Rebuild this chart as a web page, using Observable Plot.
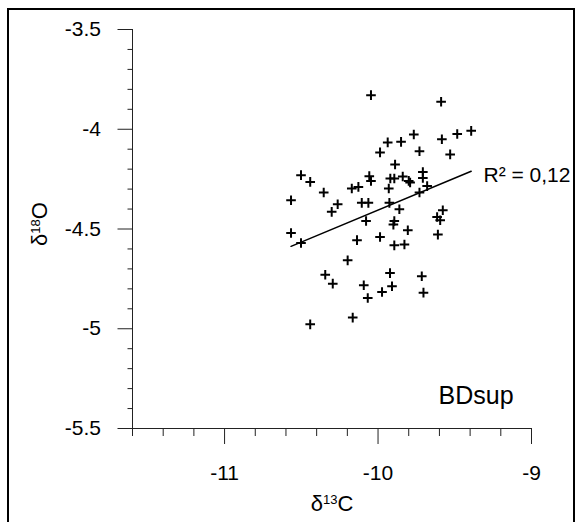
<!DOCTYPE html>
<html><head><meta charset="utf-8">
<script src="https://cdn.jsdelivr.net/npm/d3@7"></script>
<script src="https://cdn.jsdelivr.net/npm/@observablehq/plot@0.6"></script>
<style>
html,body{margin:0;padding:0;background:#fff;}
#wrap{position:relative;width:577px;height:522px;overflow:hidden;background:#fff;}
#border{position:absolute;left:7px;top:8px;width:568px;height:530px;border:2px solid #000;box-sizing:border-box;pointer-events:none;}
svg text{font-family:"Liberation Sans",Arial,sans-serif;}
</style></head><body>
<div id="wrap"><div id="border"></div></div>
<script>
// δ13C values (x)
const d13C = [
  -10.502,-10.442,-10.354,-10.567,-10.263,-10.302,-10.171,-10.128,-10.057,-10.046,-10.106,-10.063,-9.987,-10.046,
  -9.589,-9.393,-9.484,-9.584,-9.767,-9.850,-9.937,-9.730,-9.530,-9.889,-9.920,-9.894,-9.839,-9.800,-9.791,-9.708,-9.708,-9.680,-9.730,-9.930,-9.926,-9.861,-9.578,
  -10.078,-10.567,-10.502,-10.137,-10.198,-10.344,-10.295,-10.093,-10.067,-10.165,-10.442,
  -9.894,-9.900,-9.806,-9.987,-9.894,-9.828,-9.615,-9.595,-9.610,-9.922,-9.715,-9.909,-9.974,-9.704
];
// δ18O values (y)
const d18O = [
  -4.230,-4.264,-4.317,-4.356,-4.376,-4.414,-4.297,-4.289,-4.235,-4.259,-4.369,-4.369,-4.116,-3.829,
  -3.862,-4.008,-4.024,-4.050,-4.026,-4.063,-4.066,-4.110,-4.126,-4.177,-4.247,-4.247,-4.237,-4.259,-4.267,-4.214,-4.244,-4.285,-4.317,-4.297,-4.369,-4.401,-4.406,
  -4.460,-4.520,-4.570,-4.556,-4.657,-4.729,-4.774,-4.782,-4.846,-4.944,-4.978,
  -4.460,-4.478,-4.506,-4.540,-4.582,-4.578,-4.440,-4.456,-4.528,-4.721,-4.737,-4.787,-4.816,-4.819
];
const xMajorTicks = [-11, -10, -9];
const xMinorTicks = [-11.6,-11.4,-11.2,-10.8,-10.6,-10.4,-10.2,-9.8,-9.6,-9.4,-9.2];
const yMajorTicks = [-3.5, -4, -4.5, -5, -5.5];
const yMinorTicks = [-3.6,-3.7,-3.8,-3.9,-4.1,-4.2,-4.3,-4.4,-4.6,-4.7,-4.8,-4.9,-5.1,-5.2,-5.3,-5.4];
const xDomain = [-11.6, -9];
const yDomain = [-5.5, -3.5];
const xLabelParts = ["δ", "13", "C"];
const yLabelParts = ["δ", "18", "O"];
const r2Label = "R² = 0,12";
const sampleName = "BDsup";

const data = d13C.map((x, i) => ({x, y: d18O[i]}));

const plot = Plot.plot({
  width: 577, height: 522,
  marginLeft: 132, marginRight: 46, marginTop: 29, marginBottom: 94,
  x: {domain: xDomain, label: null},
  y: {domain: yDomain, label: null},
  style: {fontFamily: '"Liberation Sans", Arial, sans-serif', background: "transparent", color: "#000", overflow: "visible"},
  marks: [
    Plot.axisX(xMinorTicks, {tickSize: 8, tickFormat: () => "", label: null, stroke: "#222"}),
    Plot.axisX(xMajorTicks, {tickSize: 16, tickPadding: 21, fontSize: 21, tickFormat: d => String(d), label: null, stroke: "#222"}),
    Plot.axisY(yMinorTicks, {tickSize: 4.5, tickFormat: () => "", label: null, stroke: "#222"}),
    Plot.axisY(yMajorTicks, {tickSize: 14.5, tickPadding: 17, fontSize: 21, tickFormat: d => String(d), label: null, stroke: "#222"}),
    Plot.ruleY([yDomain[0]], {stroke: "#222"}),
    Plot.ruleX([xDomain[0]], {stroke: "#222"}),
    Plot.linearRegressionY(data, {x: "x", y: "y", ci: 0, stroke: "#000", strokeWidth: 1.5}),
    Plot.dot(data, {x: "x", y: "y", symbol: "plus", r: 3.2, stroke: "#000", strokeWidth: 2}),
    Plot.text([r2Label], {frameAnchor: "top-left", dx: 351, dy: 152, textAnchor: "start", lineAnchor: "bottom", fontSize: 21, fill: "#000"}),
    Plot.text([sampleName], {frameAnchor: "bottom-left", dx: 306, dy: -24.5, textAnchor: "start", lineAnchor: "bottom", fontSize: 25, fill: "#000"}),
    Plot.text([xLabelParts.join("")], {frameAnchor: "bottom", dy: 82.5, lineAnchor: "bottom", textAnchor: "middle", fontSize: 22, fill: "#000", className: "xlab"}),
    Plot.text([yLabelParts.join("")], {frameAnchor: "left", dx: 46 - 132, dy: -5, rotate: -90, lineAnchor: "bottom", textAnchor: "middle", fontSize: 22, fill: "#000", className: "ylab"})
  ]
});

function superscriptLabel(sel, parts) {
  sel.text(null);
  sel.append("tspan").text(parts[0]);
  sel.append("tspan").attr("font-size", 13).attr("dy", -7).text(parts[1]);
  sel.append("tspan").attr("dy", 7).text(parts[2]);
}
superscriptLabel(d3.select(plot).select("g.xlab text"), xLabelParts);
superscriptLabel(d3.select(plot).select("g.ylab text"), yLabelParts);

document.getElementById("wrap").insertBefore(plot, document.getElementById("border"));
plot.style.position = "absolute";
plot.style.left = "0px";
plot.style.top = "0px";
</script>
</body></html>
